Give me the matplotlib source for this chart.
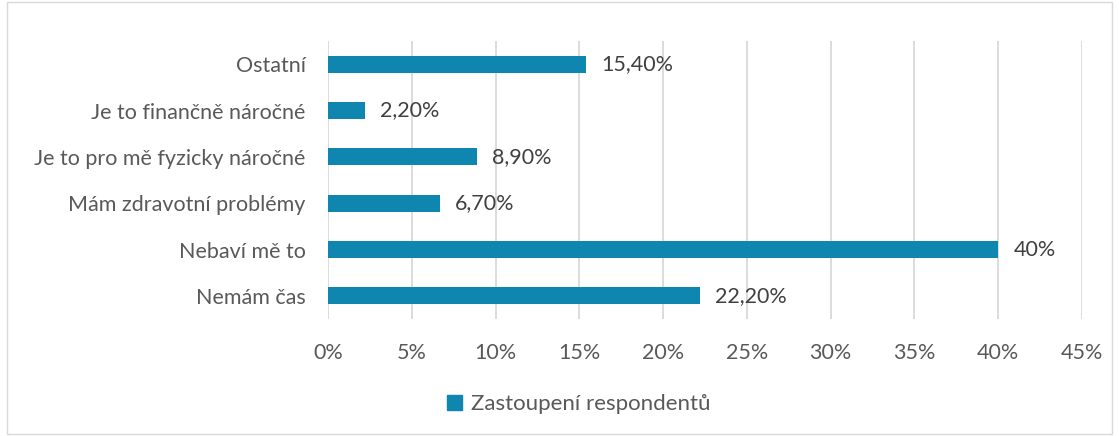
import matplotlib
matplotlib.use("Agg")
import matplotlib.pyplot as plt
from matplotlib.patches import Rectangle, Patch

categories = ["Nemám čas", "Nebaví mě to", "Mám zdravotní problémy",
              "Je to pro mě fyzicky náročné", "Je to finančně náročné", "Ostatní"]
values = [22.2, 40.0, 6.7, 8.9, 2.2, 15.4]
value_labels = ["22,20%", "40%", "6,70%", "8,90%", "2,20%", "15,40%"]
xticks = [0, 5, 10, 15, 20, 25, 30, 35, 40, 45]
series_name = "Zastoupení respondentů"

plt.rcParams['font.family'] = ['Lato', 'DejaVu Sans']
bar_color = "#0E86B0"
text_color = "#595959"
fs = 15.5

fig = plt.figure(figsize=(11.19, 4.36), dpi=100)
ax = fig.add_axes([0.2931, 0.2683, 0.6738, 0.6376])

y = list(range(len(categories)))
ax.barh(y, values, height=0.37, color=bar_color, zorder=3)
for yi, v, lab in zip(y, values, value_labels):
    ax.text(v + 0.9, yi, lab, va="center", ha="left", fontsize=fs, color="#404040")

ax.set_xlim(0, 45)
ax.set_ylim(-0.5, len(categories) - 0.5)
ax.set_xticks(xticks)
ax.set_xticklabels([f"{t}%" for t in xticks], fontsize=fs, color=text_color)
ax.set_yticks(y)
ax.set_yticklabels(categories, fontsize=fs, color=text_color)
ax.tick_params(axis="both", length=0)
ax.tick_params(axis="x", pad=17)
ax.tick_params(axis="y", pad=16)
ax.grid(axis="x", color="#D9D9D9", linewidth=1.3, zorder=0)
for s in ax.spines.values():
    s.set_visible(False)

handle = Patch(facecolor=bar_color, edgecolor=bar_color)
fig.legend([handle], [series_name], loc="center", bbox_to_anchor=(0.517, 0.073),
           frameon=False, fontsize=16, labelcolor=text_color,
           handlelength=0.7, handleheight=0.7, handletextpad=0.4)

fig.patches.append(Rectangle((0.006, 0.005), 0.988, 0.99, transform=fig.transFigure,
                             fill=False, edgecolor="#D9D9D9", linewidth=1))

fig.savefig("out.png", dpi=100, facecolor="white")
